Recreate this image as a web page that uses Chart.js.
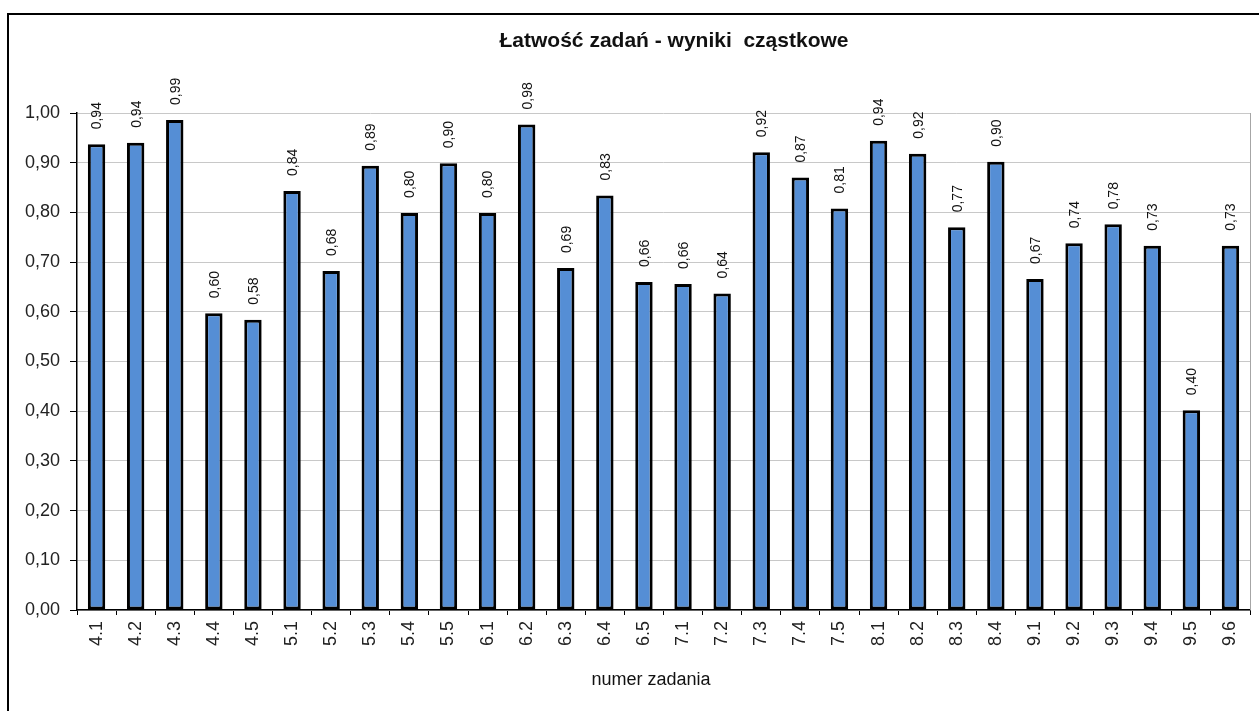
<!DOCTYPE html>
<html lang="pl">
<head>
<meta charset="utf-8">
<title>Łatwość zadań - wyniki cząstkowe</title>
<script src="https://cdn.jsdelivr.net/npm/chart.js@4/dist/chart.umd.min.js"></script>
<style>
  html, body { margin: 0; padding: 0; background: #fff; }
  #wrap { width: 1259px; height: 711px; position: relative; }
</style>
</head>
<body>
<div id="wrap">
  <canvas id="chart" width="1259" height="711" role="img" aria-label="Łatwość zadań - wyniki cząstkowe"></canvas>
</div>
<script>
// dane
const categories = ['4.1', '4.2', '4.3', '4.4', '4.5', '5.1', '5.2', '5.3', '5.4', '5.5',
  '6.1', '6.2', '6.3', '6.4', '6.5', '7.1', '7.2', '7.3', '7.4', '7.5',
  '8.1', '8.2', '8.3', '8.4', '9.1', '9.2', '9.3', '9.4', '9.5', '9.6'];
const values = [0.937, 0.940, 0.986, 0.597, 0.584, 0.843, 0.682, 0.894, 0.799, 0.899,
  0.799, 0.977, 0.688, 0.834, 0.660, 0.656, 0.637, 0.921, 0.870, 0.808,
  0.944, 0.918, 0.770, 0.902, 0.666, 0.738, 0.776, 0.733, 0.402, 0.733];
const chartTitle = 'Łatwość zadań - wyniki  cząstkowe';
const xTitle = 'numer zadania';

const fmt = v => v.toFixed(2).replace('.', ',');

Chart.defaults.font.family = '"Liberation Sans", Arial, sans-serif';
Chart.defaults.color = '#111';

// ramka, tytuły i etykiety danych rysowane ręcznie
const decorations = {
  id: 'decorations',
  afterDraw(chart) {
    const ctx = chart.ctx;
    const area = chart.chartArea;
    ctx.save();

    // obramowanie całego wykresu
    ctx.strokeStyle = '#000';
    ctx.lineWidth = 2;
    ctx.beginPath();
    ctx.moveTo(8, 711);
    ctx.lineTo(8, 14);
    ctx.lineTo(1259, 14);
    ctx.stroke();

    // prawa krawędź obszaru wykresu
    ctx.strokeStyle = '#a6a6a6';
    ctx.lineWidth = 1;
    ctx.beginPath();
    ctx.moveTo(area.right + 0.5, area.top);
    ctx.lineTo(area.right + 0.5, area.bottom);
    ctx.stroke();

    // tytuł
    ctx.fillStyle = '#111';
    ctx.textAlign = 'center';
    ctx.textBaseline = 'alphabetic';
    ctx.font = 'bold 21px "Liberation Sans", Arial, sans-serif';
    ctx.fillText(chartTitle, 674, 47);

    // tytuł osi X
    ctx.font = '18px "Liberation Sans", Arial, sans-serif';
    ctx.fillText(xTitle, 651, 685);

    // etykiety wartości nad słupkami (obrócone)
    ctx.font = '14px "Liberation Sans", Arial, sans-serif';
    ctx.textAlign = 'left';
    ctx.textBaseline = 'middle';
    const meta = chart.getDatasetMeta(0);
    meta.data.forEach((bar, i) => {
      ctx.save();
      ctx.translate(bar.x + 1, bar.y - 15);
      ctx.rotate(-Math.PI / 2);
      ctx.fillText(fmt(values[i]), 0, 0);
      ctx.restore();
    });

    ctx.restore();
  }
};

new Chart(document.getElementById('chart').getContext('2d'), {
  type: 'bar',
  data: {
    labels: categories,
    datasets: [{
      data: values,
      backgroundColor: '#558ed5',
      borderColor: '#000',
      borderWidth: 3,
      borderSkipped: false,
      categoryPercentage: 1,
      barPercentage: 0.445
    }]
  },
  options: {
    responsive: false,
    animation: false,
    layout: { padding: { left: 0, top: 113, right: 9, bottom: 0 } },
    plugins: {
      legend: { display: false },
      title: { display: false },
      tooltip: { enabled: false }
    },
    scales: {
      x: {
        type: 'category',
        offset: true,
        afterFit: s => { s.height = 101; },
        grid: {
          offset: true,
          drawOnChartArea: false,
          drawTicks: true,
          tickLength: 5,
          tickColor: '#000'
        },
        border: { color: '#000', width: 1.5 },
        ticks: {
          autoSkip: false,
          minRotation: 90,
          maxRotation: 90,
          padding: 6,
          font: { size: 18 },
          color: '#222'
        }
      },
      y: {
        type: 'linear',
        min: 0,
        max: 1,
        afterFit: s => { s.width = 77; },
        grid: {
          color: '#c8c8c8',
          tickColor: '#000',
          tickLength: 7
        },
        border: { color: '#000', width: 1.5 },
        ticks: {
          stepSize: 0.1,
          padding: 10,
          font: { size: 18 },
          color: '#222',
          callback: v => fmt(v)
        }
      }
    }
  },
  plugins: [decorations]
});
</script>
</body>
</html>
